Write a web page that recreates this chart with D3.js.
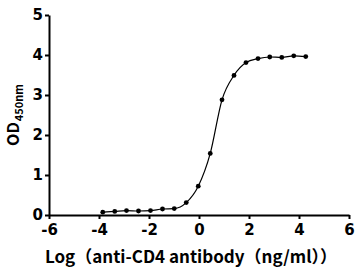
<!DOCTYPE html>
<html>
<head>
<meta charset="utf-8">
<script src="https://cdn.jsdelivr.net/npm/d3@7"></script>
<style>
  body { margin: 0; background: #fff; }
  svg { display: block; }
  text { font-family: "Noto Sans CJK SC", "DejaVu Sans", sans-serif; font-weight: bold; }
</style>
</head>
<body>
<div id="chart"></div>
<script>
// log concentration (3-fold dilution) and OD450 readings
const logConc = [-3.85, -3.37, -2.9, -2.42, -1.94, -1.46, -0.99, -0.51, -0.03,
  0.45, 0.92, 1.4, 1.88, 2.36, 2.83, 3.31, 3.79, 4.27]
const od = [0.07, 0.09, 0.11, 0.1, 0.11, 0.15, 0.16, 0.31, 0.72,
  1.54, 2.88, 3.49, 3.81, 3.91, 3.95, 3.94, 3.98, 3.96]
const xTicks = [-6, -4, -2, 0, 2, 4, 6]
const yTicks = [0, 1, 2, 3, 4, 5]

const width = 363, height = 275
const margin = { top: 15, right: 14, bottom: 60, left: 49 }

const svg = d3.select('#chart').append('svg')
  .attr('width', width)
  .attr('height', height)

const x = d3.scaleLinear().domain([-6, 6]).range([margin.left, width - margin.right])
const y = d3.scaleLinear().domain([0, 5]).range([height - margin.bottom, margin.top])

const fmt = d => String(d)

const xAxis = svg.append('g')
  .attr('transform', `translate(0,${y(0)})`)
  .call(d3.axisBottom(x).tickValues(xTicks).tickFormat(fmt).tickSize(4).tickSizeOuter(0))
const yAxis = svg.append('g')
  .attr('transform', `translate(${x(-6)},0)`)
  .call(d3.axisLeft(y).tickValues(yTicks).tickFormat(fmt).tickSize(4).tickSizeOuter(0))

;[xAxis, yAxis].forEach(g => {
  g.select('.domain').attr('stroke', '#000').attr('stroke-width', 2)
  g.selectAll('.tick line').attr('stroke', '#000').attr('stroke-width', 2)
  g.selectAll('.tick text')
    .attr('fill', '#000')
    .style('font-size', '15px')
    .style('font-family', '"DejaVu Sans", sans-serif')
    .style('font-weight', 'bold')
})
xAxis.selectAll('.tick text').attr('dy', '0.95em').attr('y', 6)
yAxis.selectAll('.tick text').attr('x', -6)

const pts = logConc.map((v, i) => ({ x: v, y: od[i] }))

svg.append('path')
  .datum(pts)
  .attr('fill', 'none')
  .attr('stroke', '#000')
  .attr('stroke-width', 1.2)
  .attr('d', d3.line().x(d => x(d.x)).y(d => y(d.y)).curve(d3.curveMonotoneX))

svg.selectAll('circle')
  .data(pts)
  .enter().append('circle')
    .attr('cx', d => x(d.x))
    .attr('cy', d => y(d.y))
    .attr('r', 2.4)
    .attr('fill', '#000')

// axis titles
svg.append('text')
  .attr('x', 191)
  .attr('y', 263)
  .attr('text-anchor', 'middle')
  .style('font-size', '17px')
  .text('Log（anti-CD4 antibody（ng/ml））')

const yl = svg.append('text')
  .attr('transform', `translate(19,${(y(0) + y(5)) / 2}) rotate(-90)`)
  .attr('text-anchor', 'middle')
  .style('font-size', '16px')
yl.append('tspan').text('OD')
yl.append('tspan').attr('dy', 4).attr('dx', 1).style('font-size', '11px').text('450nm')
</script>
</body>
</html>
